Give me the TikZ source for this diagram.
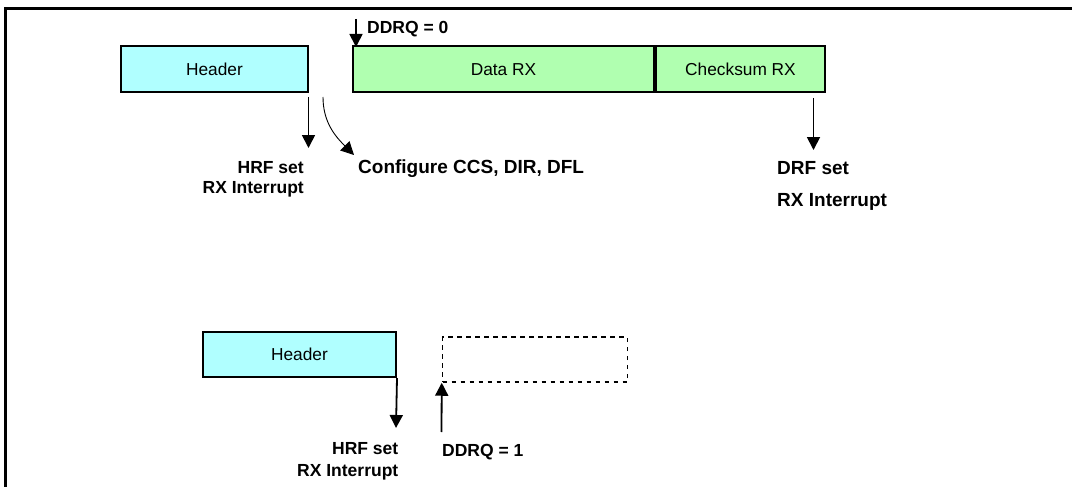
\documentclass[tikz,border=0pt]{standalone}
\usepackage{fontspec}
\setmainfont{Liberation Sans}
\usetikzlibrary{arrows.meta}
\definecolor{hdrcyan}{HTML}{B0FFFF}
\definecolor{datagreen}{HTML}{B0FFB0}
\begin{document}
\begin{tikzpicture}[x=1pt,y=-1pt,
  field/.style={draw=black, line width=2pt, minimum height=46pt, inner sep=0pt, font=\fontsize{17.3}{20}\selectfont},
  hfield/.style={field, fill=hdrcyan},
  dfield/.style={field, fill=datagreen},
  ghost/.style={draw=black, line width=1.5pt, dash pattern=on 4.5pt off 4.5pt, minimum height=45pt, minimum width=185pt, inner sep=0pt},
  lbl/.style={font=\bfseries\fontsize{17.5}{20}\selectfont, inner sep=0pt},
  biglbl/.style={font=\bfseries\fontsize{19}{20}\selectfont, inner sep=0pt},
  arr/.style={line width=1.8pt, -{Triangle[width=13pt,length=13pt]}},
  thinarr/.style={line width=0.9pt, -{Triangle[width=13pt,length=13pt]}}
]
\useasboundingbox (0,0) rectangle (1072,487);
% frame
\coordinate (ftl) at (5.5,8.5);
\coordinate (ftr) at (1072,8.5);
\coordinate (fbl) at (5.5,487);
\draw[line width=2.8pt] (fbl) -- (ftl) -- (ftr);

% top row
\node[hfield, minimum width=187pt] (hdr) at (214.5,69.5) {Header};
\node[dfield, minimum width=301pt] (data) at (503.5,69.5) {Data RX};
\node[dfield, minimum width=169pt, anchor=west] (cks) at (data.east) {Checksum RX};

% DDRQ = 0
\coordinate (d0s) at (356,19);
\coordinate (d0e) at (356,47);
\draw[arr] (d0s) -- (d0e);
\node[lbl, anchor=base west] (d0) at (367,34) {DDRQ = 0};

% header arrow
\coordinate (h1s) at (308.5,97);
\coordinate (h1e) at (308.5,148);
\draw[arr] (h1s) -- (h1e);
\node[lbl, anchor=base east] (hrf1) at (304,173) {HRF set};
\node[lbl, anchor=base east] (rxi1) at (304,193) {RX Interrupt};

% curved arrow
\coordinate (cs) at (323,97);
\coordinate (ce) at (354,155);
\draw[thinarr] (cs) to[out=-90, in=135] (ce);
\node[biglbl, anchor=base west] (cfg) at (358,173) {Configure CCS, DIR, DFL};

% checksum arrow
\coordinate (c1s) at (813.5,98);
\coordinate (c1e) at (813.5,150);
\draw[arr] (c1s) -- (c1e);
\node[biglbl, anchor=base west] (drf) at (777,174) {DRF set};
\node[biglbl, anchor=base west] (rxi) at (777,206) {RX Interrupt};

% bottom row
\node[hfield, minimum width=193pt, minimum height=45pt] (hdr2) at (299.5,354.5) {Header};
\node[ghost] (empty) at (535,359.5) {};
\coordinate (h2e) at (396,428);
\draw[arr] (hdr2.south east) -- (h2e);
\node[lbl, anchor=base east] (hrf2) at (398.5,454) {HRF set};
\node[lbl, anchor=base east] (rxi2) at (398.5,476) {RX Interrupt};
\coordinate (u1s) at (441.5,432);
\draw[arr] (u1s) -- (empty.south west);
\node[lbl, anchor=base west] (d1) at (442,456) {DDRQ = 1};
\end{tikzpicture}
\end{document}
